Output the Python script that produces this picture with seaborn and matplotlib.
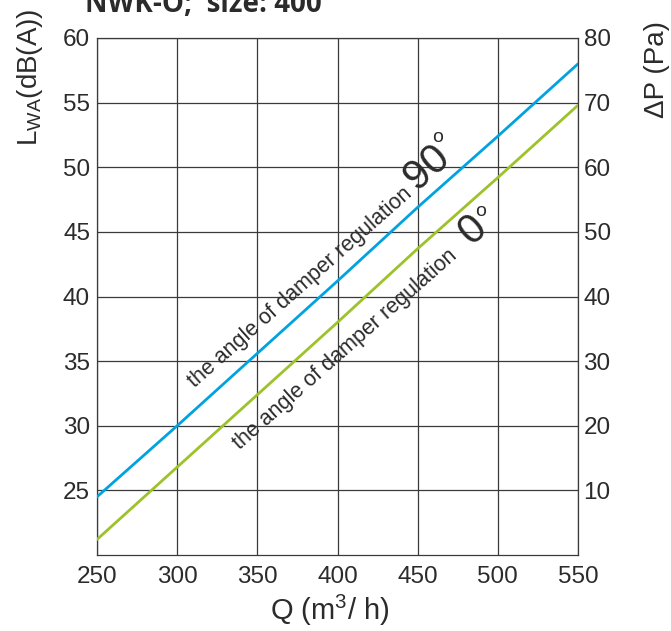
import numpy as np
import pandas as pd
import matplotlib
matplotlib.use("Agg")
import matplotlib.pyplot as plt
import seaborn as sb

# values
q = [250, 300, 350, 400, 450, 500, 550]
lwa_90 = [24.5, 30.0, 35.6, 41.2, 46.9, 52.4, 58.0]
lwa_0 = [21.2, 26.8, 32.4, 38.0, 43.7, 49.2, 54.8]
x_ticks = [250, 300, 350, 400, 450, 500, 550]
y_ticks = [25, 30, 35, 40, 45, 50, 55, 60]
dp_ticks = [10, 20, 30, 40, 50, 60, 70, 80]
title = "NWK-O;  size: 400"

df = pd.DataFrame({
    "Q": q + q,
    "Lwa": lwa_90 + lwa_0,
    "angle": ["90"] * len(q) + ["0"] * len(q),
})

sb.set_style("white")
plt.rcParams["font.family"] = ["Liberation Sans", "DejaVu Sans"]
plt.rcParams["mathtext.fontset"] = "custom"
plt.rcParams["mathtext.rm"] = "Liberation Sans"

txt = "#2b2b2b"
grid_c = "#3a3a3a"

fig = plt.figure(figsize=(6.71, 6.31), dpi=100)
ax = fig.add_axes([97 / 671, 1 - 555 / 631, 481 / 671, 517 / 631])

sb.lineplot(data=df, x="Q", y="Lwa", hue="angle",
            palette={"90": "#00a3e0", "0": "#9dc22a"},
            linewidth=2.0, legend=False, ax=ax, zorder=3)

ax.set_xlim(250, 550)
ax.set_ylim(20, 60)
ax.set_xticks(x_ticks)
ax.set_yticks(y_ticks)
ax.grid(True, color=grid_c, linewidth=0.9)
for s in ax.spines.values():
    s.set_color(grid_c)
    s.set_linewidth(0.9)
ax.tick_params(axis="both", length=0, labelsize=17.5, labelcolor=txt)
ax.tick_params(axis="x", pad=8)
ax.tick_params(axis="y", pad=5)
ax.set_xlabel("")
ax.set_ylabel("")

ax2 = ax.twinx()
ax2.set_ylim(0, 80)
ax2.set_yticks(dp_ticks)
ax2.tick_params(axis="y", length=0, labelsize=17.5, labelcolor=txt, pad=4)
for s in ax2.spines.values():
    s.set_visible(False)

# labels
fig.text(330 / 671, 1 - 628 / 631, r"Q (m$^3$/ h)", fontsize=21, color=txt,
         ha="center", va="bottom")
fig.text(30 / 671, 1 - 146 / 631, r"L$_{\rm WA}$(dB(A))", fontsize=20, color=txt,
         rotation=90, ha="center", va="bottom")
fig.text(657 / 671, 1 - 118 / 631, "ΔP (Pa)", fontsize=20, color=txt,
         rotation=90, ha="center", va="bottom")
fig.text(85 / 671, 1 - 12 / 631, title, fontsize=20, fontweight="bold",
         color=txt, ha="left", va="baseline", family=["Open Sans", "DejaVu Sans"])

# annotations along the lines
ang = 41.5
ax.text(377, 40.7, "the angle of damper regulation", fontsize=15.5, color=txt,
        rotation=ang, rotation_mode="anchor", ha="center", va="center")
ax.text(405, 35.9, "the angle of damper regulation", fontsize=15.5, color=txt,
        rotation=ang, rotation_mode="anchor", ha="center", va="center")
ax.text(456, 50.0, "90", fontsize=30, color=txt,
        rotation=ang, rotation_mode="anchor", ha="center", va="center")
ax.text(484.5, 45.15, "0", fontsize=30, color=txt,
        rotation=ang, rotation_mode="anchor", ha="center", va="center")
ax.text(462.7, 52.3, "o", fontsize=14, color=txt, ha="center", va="center",
        fontweight="light")
ax.text(489.5, 46.6, "o", fontsize=14, color=txt, ha="center", va="center",
        fontweight="light")

fig.savefig("out.png", dpi=100)
plt.close(fig)
